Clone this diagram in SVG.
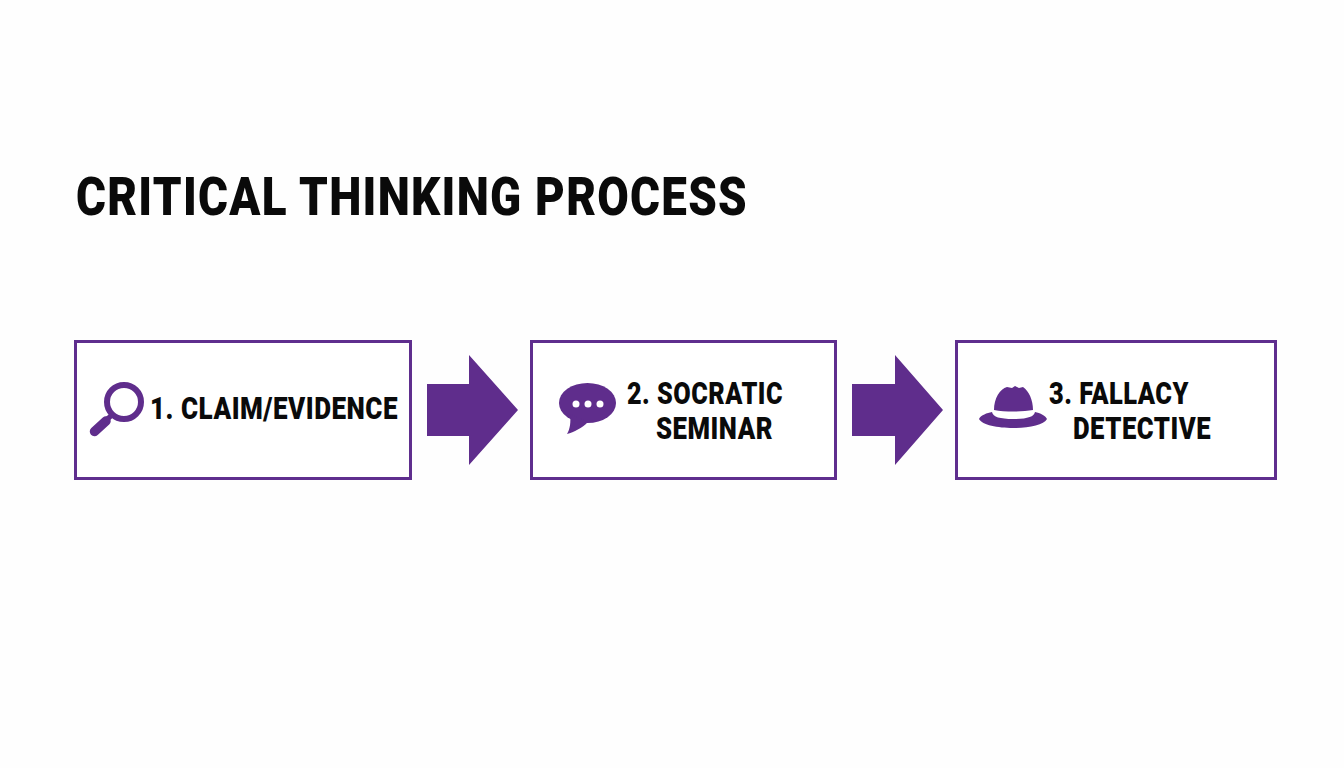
<svg xmlns="http://www.w3.org/2000/svg" width="1344" height="768" viewBox="0 0 1344 768">
<style>
.box{fill:#fff;stroke:#5f2e8e;stroke-width:3}
.ic{fill:#5f2d8c}
.arrow{fill:#5f2d8c}
text{font-family:Roboto,"Liberation Sans",sans-serif;font-weight:900;fill:#0a0a0a}
.t{font-size:31px;letter-spacing:.6px}
.h{font-size:54px;letter-spacing:1.5px}
</style>
<rect width="1344" height="768" fill="#fefefe"/>
<text id="title" class="h" x="76" y="215" textLength="672" lengthAdjust="spacingAndGlyphs">CRITICAL THINKING PROCESS</text>
<g id="connectors">
<polygon class="arrow" points="427,384 469,384 469,355 518,410 469,465 469,436 427,436"/>
<polygon class="arrow" points="852,384 895,384 895,355 943,410 895,465 895,436 852,436"/>
</g>
<g id="node1">
<rect class="box" x="75.500" y="341.500" width="335" height="137"/>
<circle cx="124" cy="402" r="17" fill="none" stroke="#5f2d8c" stroke-width="6"/>
<path d="M112 415L105 421" stroke="#5f2d8c" stroke-width="5" fill="none"/>
<path d="M106 421L94.500 431.500" stroke="#5f2d8c" stroke-width="9.500" stroke-linecap="round" fill="none"/>
<text class="t" x="150" y="419" textLength="248" lengthAdjust="spacingAndGlyphs">1. CLAIM/EVIDENCE</text>
</g>
<g id="node2">
<rect class="box" x="531.500" y="341.500" width="304" height="137"/>
<ellipse class="ic" cx="587.500" cy="403" rx="28.500" ry="20"/>
<path class="ic" d="M570 414C571 422 570 429 567 434C574 432 582 428 588 422Z"/>
<circle cx="576" cy="404" r="3.500" fill="#fff"/>
<circle cx="588" cy="404" r="3.500" fill="#fff"/>
<circle cx="600" cy="404" r="3.500" fill="#fff"/>
<text class="t" x="627" y="404" textLength="156" lengthAdjust="spacingAndGlyphs">2. SOCRATIC</text>
<text class="t" x="656" y="439" textLength="117" lengthAdjust="spacingAndGlyphs">SEMINAR</text>
</g>
<g id="node3">
<rect class="box" x="956.500" y="341.500" width="319" height="137"/>
<path class="ic" d="M994 410C994 398 1000 389 1007 387L1012 388L1015 386L1019 388L1023 387C1029 391 1033 400 1033 410C1022 412 1005 412 994 410Z"/>
<path class="ic" d="M979 419C981 415 987 413 992 412C993 417 1000 419 1013 419C1027 419 1034 417 1035 412C1040 413 1046 416 1047 419C1044 425 1028 428 1013 428C998 428 982 425 979 419Z"/>
<text class="t" x="1049" y="404" textLength="140" lengthAdjust="spacingAndGlyphs">3. FALLACY</text>
<text class="t" x="1073" y="439" textLength="138" lengthAdjust="spacingAndGlyphs">DETECTIVE</text>
</g>
</svg>
